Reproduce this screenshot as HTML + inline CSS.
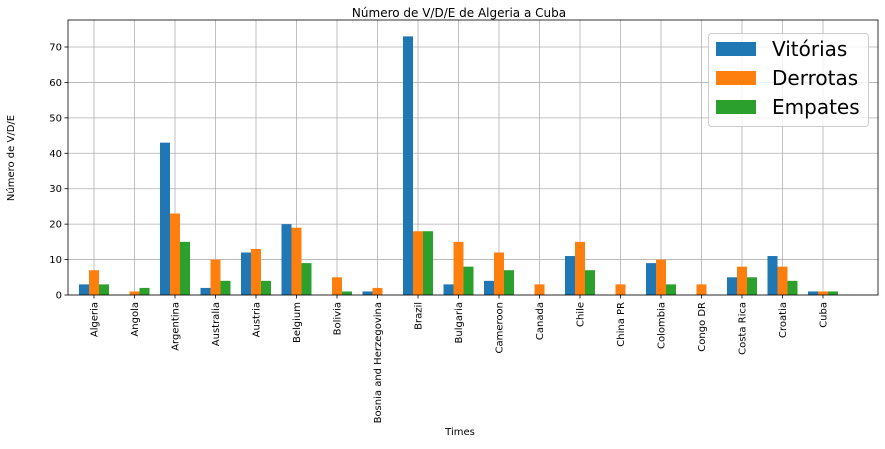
<!DOCTYPE html>
<html><head><meta charset="utf-8"><style>
body{margin:0;background:#fff;font-family:"Liberation Sans","DejaVu Sans",sans-serif}
svg text{font-family:"DejaVu Sans","Liberation Sans",sans-serif}
</style></head><body>
<svg id="chart" width="885" height="444" xmlns="http://www.w3.org/2000/svg">
<rect width="885" height="444" fill="#fff"/>
<g id="grid"></g><g id="bars"></g><g id="axes"></g>
<text x="459" y="17" font-size="12" text-anchor="middle">Número de V/D/E de Algeria a Cuba</text>
<text x="460" y="435" font-size="10" text-anchor="middle">Times</text>
<text transform="translate(14,158) rotate(-90)" font-size="10" text-anchor="middle">Número de V/D/E</text>
<g>
<rect x="708.5" y="33.5" width="160" height="93" rx="3" fill="#fff" fill-opacity="0.8" stroke="#ccc"/>
<rect x="716" y="42" width="40" height="14" fill="#1f77b4"/>
<text x="772" y="56" font-size="20">Vitórias</text>
<rect x="716" y="71" width="40" height="14" fill="#ff7f0e"/>
<text x="772" y="85" font-size="20">Derrotas</text>
<rect x="716" y="100" width="40" height="14" fill="#2ca02c"/>
<text x="772" y="114" font-size="20">Empates</text>
</g>
</svg>
<script>
const categories=["Algeria","Angola","Argentina","Australia","Austria","Belgium","Bolivia","Bosnia and Herzegovina","Brazil","Bulgaria","Cameroon","Canada","Chile","China PR","Colombia","Congo DR","Costa Rica","Croatia","Cuba"];
const vitorias=[3,0,43,2,12,20,0,1,73,3,4,0,11,0,9,0,5,11,1];
const derrotas=[7,1,23,10,13,19,5,2,18,15,12,3,15,3,10,3,8,8,1];
const empates=[3,2,15,4,4,9,1,0,18,8,7,0,7,0,3,0,5,4,1];
const yTicks=[0,10,20,30,40,50,60,70];
const L=68,R=878,T=20,B=295;
const x0=94,step=40.5,bw=10;
const X=i=>x0+step*i;
const Y=v=>B-v*(248/70);
const NS="http://www.w3.org/2000/svg";
function mk(p,tag,at){const e=document.createElementNS(NS,tag);for(const k in at)e.setAttribute(k,at[k]);p.appendChild(e);return e;}
const grid=document.getElementById('grid'),bars=document.getElementById('bars'),axes=document.getElementById('axes');
yTicks.forEach(t=>{const y=Y(t);
const g=mk(grid,'line',{x1:L,x2:R,y1:y,y2:y,stroke:'#b0b0b0','stroke-width':0.8});


mk(axes,'line',{x1:L-3.5,x2:L,y1:y,y2:y,stroke:'#000','stroke-width':0.8});
const tx=mk(axes,'text',{x:L-6,y:y+3.5,'font-size':10,'text-anchor':'end'});tx.textContent=t;


});
const series=[[vitorias,'#1f77b4','vitorias'],[derrotas,'#ff7f0e','derrotas'],[empates,'#2ca02c','empates']];
categories.forEach((c,i)=>{const x=X(i);
const g=mk(grid,'line',{x1:x,x2:x,y1:T,y2:B,stroke:'#b0b0b0','stroke-width':0.8});


series.forEach((s,j)=>{const v=s[0][i];const y=Y(v);
const r=mk(bars,'rect',{x:x+(j-1)*bw-bw/2,y:y,width:bw,height:B-y,fill:s[1]});


});
mk(axes,'line',{x1:x,x2:x,y1:B,y2:B+3.5,stroke:'#000','stroke-width':0.8});
const tx=mk(axes,'text',{transform:`translate(${x+3.5},${B+7}) rotate(-90)`,'font-size':10,'text-anchor':'end'});tx.textContent=c;


});
const fr=mk(axes,'rect',{x:L,y:T,width:R-L,height:B-T,fill:'none',stroke:'#000','stroke-width':0.8});


</script>
</body></html>
